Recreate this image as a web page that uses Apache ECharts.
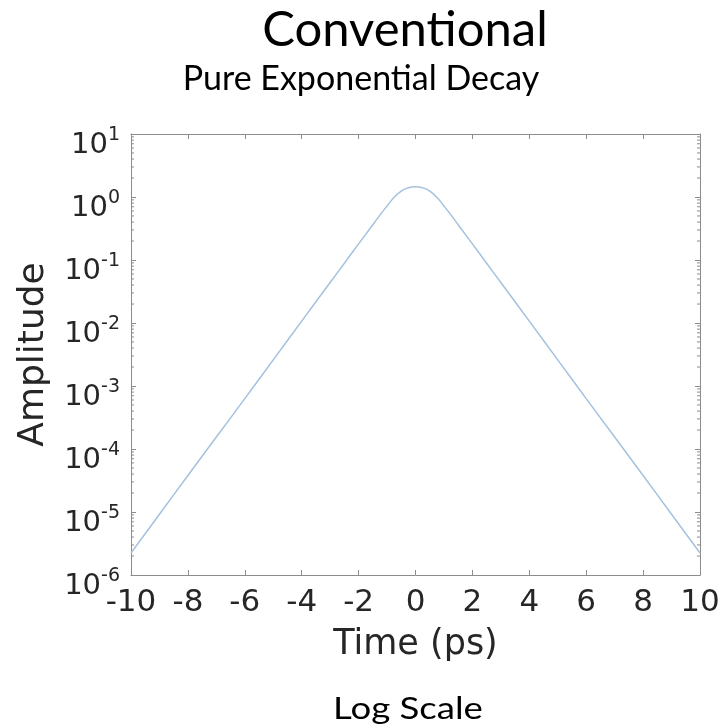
<!DOCTYPE html>
<html>
<head>
<meta charset="utf-8">
<script src="https://cdn.jsdelivr.net/npm/echarts@6/dist/echarts.min.js"></script>
<style>
  html, body { margin: 0; padding: 0; background: #ffffff; }
  #chart { width: 723px; height: 728px; }
</style>
</head>
<body>
<div id="chart"></div>
<script>
// Time axis (ps) and decay amplitude
const timePs = [-10, -9, -8, -7, -6, -5, -4, -3, -2.5,
  -2, -1.75, -1.5, -1.25, -1, -0.75, -0.5, -0.25,
  0, 0.25, 0.5, 0.75, 1, 1.25, 1.5, 1.75, 2,
  2.5, 3, 4, 5, 6, 7, 8, 9, 10];
const amplitude = [2.24e-6, 9.2e-6, 3.8e-5, 1.55e-4, 6.3e-4, 2.6e-3, 1.07e-2, 4.4e-2, 8.9e-2,
  0.18, 0.255, 0.363, 0.516, 0.72, 0.99, 1.245, 1.40,
  1.45, 1.40, 1.245, 0.99, 0.72, 0.516, 0.363, 0.255, 0.18,
  8.9e-2, 4.4e-2, 1.07e-2, 2.6e-3, 6.3e-4, 1.55e-4, 3.8e-5, 9.2e-6, 2.24e-6];

// Axis ranges and ticks
const xTicks = [-10, -8, -6, -4, -2, 0, 2, 4, 6, 8, 10];
const yDecades = [-6, -5, -4, -3, -2, -1, 0, 1];

const titleText = 'Conventional';
const subtitleText = 'Pure Exponential Decay';
const captionText = 'Log Scale';
const xName = 'Time (ps)';
const yName = 'Amplitude';

// minor tick values (2..9 within each decade) for the log axis
const minorTickValues = [];
for (let k = 0; k < yDecades.length - 1; k++) {
  for (let m = 2; m <= 9; m++) minorTickValues.push([xTicks[0], m * Math.pow(10, yDecades[k])]);
}

const axisGray = '#8c8c8c';
const labelColor = '#262626';
const tickFont = 'DejaVu Sans';

const chart = echarts.init(document.getElementById('chart'), null, { renderer: 'canvas' });

const lineData = timePs.map((t, i) => [t, amplitude[i]]);

chart.setOption({
  backgroundColor: '#ffffff',
  animation: false,
  grid: { left: 131, top: 134, width: 569, height: 441, containLabel: false, outerBoundsMode: 'none' },
  xAxis: [{
    type: 'value',
    min: xTicks[0], max: xTicks[xTicks.length - 1], interval: 2,
    name: xName, nameLocation: 'middle', nameGap: 52,
    nameTextStyle: { fontFamily: tickFont, fontSize: 35, color: labelColor },
    axisLine: { show: true, onZero: false, lineStyle: { color: axisGray, width: 1 } },
    axisTick: { show: true, inside: true, length: 5, lineStyle: { color: axisGray } },
    axisLabel: { fontFamily: tickFont, fontSize: 31, color: labelColor, margin: 12 },
    splitLine: { show: false }
  }, {
    type: 'value', position: 'top',
    min: xTicks[0], max: xTicks[xTicks.length - 1], interval: 2,
    axisLine: { show: true, onZero: false, lineStyle: { color: axisGray, width: 1 } },
    axisTick: { show: true, inside: true, length: 5, lineStyle: { color: axisGray } },
    axisLabel: { show: false },
    splitLine: { show: false }
  }],
  yAxis: [{
    type: 'log', logBase: 10,
    min: Math.pow(10, yDecades[0]), max: Math.pow(10, yDecades[yDecades.length - 1]),
    splitNumber: yDecades.length - 1,
    name: yName, nameLocation: 'middle', nameGap: 79, nameRotate: 90,
    nameTextStyle: { fontFamily: tickFont, fontSize: 36, color: labelColor },
    axisLine: { show: true, onZero: false, lineStyle: { color: axisGray, width: 1 } },
    axisTick: { show: true, inside: true, length: 5, lineStyle: { color: axisGray } },
    axisLabel: {
      margin: 11,
      padding: [18, 0, 0, 0],
      formatter: v => '{b|10}{e|' + Math.round(Math.log10(v)) + '}',
      rich: {
        b: { fontFamily: tickFont, fontSize: 29, color: labelColor, verticalAlign: 'bottom', lineHeight: 34 },
        e: { fontFamily: tickFont, fontSize: 19, color: labelColor, verticalAlign: 'top', lineHeight: 20 }
      }
    },
    splitLine: { show: false }
  }, {
    type: 'log', logBase: 10, position: 'right',
    min: Math.pow(10, yDecades[0]), max: Math.pow(10, yDecades[yDecades.length - 1]),
    splitNumber: yDecades.length - 1,
    axisLine: { show: true, onZero: false, lineStyle: { color: axisGray, width: 1 } },
    axisTick: { show: true, inside: true, length: 5, lineStyle: { color: axisGray } },
    axisLabel: { show: false },
    splitLine: { show: false }
  }],
  graphic: [
    { type: 'text', x: 405, y: 30,
      style: { text: titleText, align: 'center', verticalAlign: 'middle',
        font: '49px Lato', fill: '#000' } },
    { type: 'text', x: 361, y: 79,
      style: { text: subtitleText, align: 'center', verticalAlign: 'middle',
        font: '34px Lato', fill: '#000' } },
    { type: 'text', x: 408, y: 709, scaleX: 1.22,
      style: { text: captionText, align: 'center', verticalAlign: 'middle',
        font: '30px Lato', fill: '#000' } }
  ],
  series: [{
    type: 'line',
    data: lineData,
    xAxisIndex: 0, yAxisIndex: 0,
    showSymbol: false,
    smooth: 0.5,
    lineStyle: { color: '#a4c2dd', width: 1.5 },
    silent: true
  }, {
    type: 'custom',
    xAxisIndex: 0, yAxisIndex: 0,
    data: minorTickValues,
    silent: true,
    renderItem: (params, api) => {
      const l = api.coord([xTicks[0], api.value(1)]);
      const r = api.coord([xTicks[xTicks.length - 1], api.value(1)]);
      const st = { stroke: axisGray, lineWidth: 1 };
      return {
        type: 'group',
        children: [
          { type: 'line', shape: { x1: l[0], y1: l[1], x2: l[0] + 3, y2: l[1] }, style: st },
          { type: 'line', shape: { x1: r[0] - 3, y1: r[1], x2: r[0], y2: r[1] }, style: st }
        ]
      };
    }
  }]
});
</script>
</body>
</html>
